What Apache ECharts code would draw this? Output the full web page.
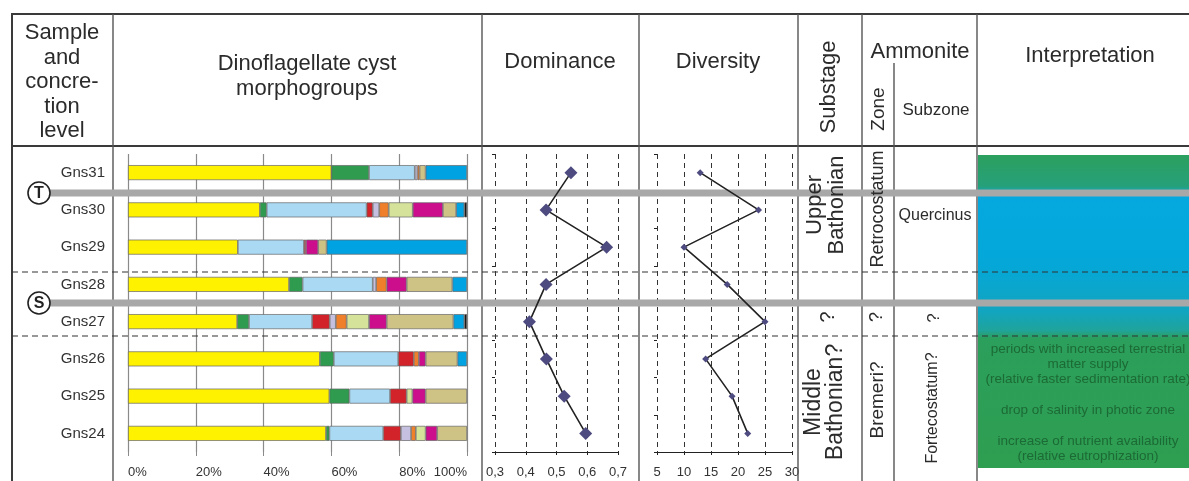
<!DOCTYPE html>
<html><head><meta charset="utf-8">
<script src="https://cdn.jsdelivr.net/npm/echarts@6/dist/echarts.min.js"></script>
<style>html,body{margin:0;padding:0;background:#fff}#c{width:1189px;height:481px}</style>
</head><body><div id="c"></div>
<script>
// ---------- data ----------
const samples = ['Gns31','Gns30','Gns29','Gns28','Gns27','Gns26','Gns25','Gns24'];
// morphogroup percentages (per sample, top to bottom)
const yellowGrp    = [60.0, 38.9, 32.4, 47.5, 32.2, 56.6, 59.4, 58.4];
const greenGrp     = [11.1,  2.0,  0.0,  4.0,  3.5,  4.1,  5.9,  1.0];
const lightBlueGrp = [13.5, 29.5, 19.5, 20.7, 18.6, 19.0, 12.0, 15.9];
const redGrp       = [ 0.0,  1.8,  0.6,  0.0,  5.2,  4.6,  4.9,  5.2];
const lavenderGrp  = [ 0.8,  1.9,  0.0,  1.0,  1.8,  0.0,  0.0,  3.0];
const orangeGrp    = [ 0.6,  2.8,  0.0,  3.1,  3.2,  1.5,  0.0,  1.4];
const paleGreenGrp = [ 0.0,  7.1,  0.0,  0.0,  6.6,  0.0,  1.7,  2.9];
const magentaGrp   = [ 0.0,  8.9,  3.6,  5.9,  5.2,  2.0,  3.9,  3.4];
const khakiGrp     = [ 1.8,  3.9,  2.5, 13.5, 19.7,  9.4, 12.2,  8.8];
const blueGrp      = [12.2,  2.4, 41.4,  4.3,  3.2,  2.8,  0.0,  0.0];
const blackGrp     = [ 0.0,  0.8,  0.0,  0.0,  0.8,  0.0,  0.0,  0.0];
const dominance = [0.547, 0.466, 0.663, 0.466, 0.412, 0.467, 0.525, 0.595];
const diversity = [13.0, 23.8, 10.0, 18.0, 25.0, 14.0, 18.9, 21.8];
const interpretationLines = ['periods with increased terrestrial','matter supply','(relative faster sedimentation rate)','drop of salinity in photic zone','increase of nutrient availability','(relative eutrophization)'];

// ---------- styles ----------
const groups = [yellowGrp, greenGrp, lightBlueGrp, redGrp, lavenderGrp, orangeGrp, paleGreenGrp, magentaGrp, khakiGrp, blueGrp, blackGrp];
const groupColors = ['#fff200','#2e9b4e','#a9d9f3','#d2232a','#c5c0e0','#ef7f2a','#d5e39a','#cc0e8d','#cfc285','#00a2e2','#111111'];
const FONT = '"Liberation Sans", Arial, sans-serif';
const TXT = '#2b2b2b';

const chart = echarts.init(document.getElementById('c'), null, {renderer:'canvas'});

const barSeries = groups.map((vals, k) => ({
  type:'bar', xAxisIndex:0, yAxisIndex:0, stack:'morph', barWidth:15, silent:true,
  data: vals.map(v => v > 0 ? v : null),
  itemStyle:{color:groupColors[k], borderColor:'#666', borderWidth:0.7}
}));

function L(x1,y1,x2,y2,stroke,w,dash,z){
  return {type:'line', z:z||1, silent:true, shape:{x1,y1,x2,y2}, style:{stroke, lineWidth:w, lineDash:dash||null}};
}
function T(text,x,y,size,opts){
  opts = opts||{};
  return {type:'text', z:3, silent:true, x, y, rotation: opts.rot ? Math.PI/2 : 0,
    style:{text, x:0, y:0, fill: opts.fill||TXT, font: (opts.bold?'bold ':'') + size+'px '+FONT,
      align:'center', verticalAlign:'middle', lineHeight: opts.lh||size*1.12}};
}

const graphics = [];
// interpretation fill
graphics.push({type:'rect', z:0, silent:true, shape:{x:978, y:155, width:211, height:313},
  style:{fill:new echarts.graphic.LinearGradient(0,0,0,1,[
    {offset:0, color:'#2ca05e'},{offset:0.10, color:'#26a07a'},{offset:0.13, color:'#05a9df'},
    {offset:0.35, color:'#04a7d8'},{offset:0.50, color:'#12a5c0'},{offset:0.56, color:'#1fa49c'},
    {offset:0.585, color:'#2b9f5c'},{offset:1, color:'#2e9e50'}])}});
// table frame
graphics.push(L(12,14,1189,14,'#3a3a3a',2));
graphics.push(L(12,146,1189,146,'#3a3a3a',2));
graphics.push(L(12,13,12,481,'#3a3a3a',2));
[113,482,639,798,862,977].forEach(x => graphics.push(L(x,14,x,481,'#555',1.4)));
graphics.push(L(894,63,894,481,'#555',1.4));
// gray concretion levels and dashed boundaries
graphics.push(L(50,193,1189,193,'#a8a8a8',7));
graphics.push(L(50,303,1189,303,'#a8a8a8',7));
graphics.push(L(12,272,1189,272,'#333',1.2,[6,4],2));
graphics.push(L(12,336,1189,336,'#333',1.2,[6,4],2));
// circles
[['T',193],['S',303]].forEach(([t,y]) => {
  graphics.push({type:'circle', z:4, silent:true, shape:{cx:39, cy:y, r:11}, style:{fill:'#fff', stroke:'#222', lineWidth:1.6}});
  graphics.push(Object.assign(T(t,39,y+1,16,{bold:true, fill:'#222'}), {z:5}));
});
// header texts
graphics.push(T('Sample\nand\nconcre-\ntion\nlevel',62,82,22,{lh:24.5}));
graphics.push(T('Dinoflagellate cyst\nmorphogroups',307,76,22,{lh:25}));
graphics.push(T('Dominance',560,62,22));
graphics.push(T('Diversity',718,62,22));
graphics.push(T('Substage',829,87,22,{rot:true}));
graphics.push(T('Ammonite',920,52,22));
graphics.push(T('Zone',879,109,19,{rot:true}));
graphics.push(T('Subzone',936,110,17));
graphics.push(T('Interpretation',1090,56,22));
// body texts
graphics.push(T('Upper\nBathonian',826,205,22,{rot:true,lh:22}));
graphics.push(T('?',828,317,20,{rot:true}));
graphics.push(T('Middle\nBathonian?',825,402,23,{rot:true,lh:22}));
graphics.push(T('Retrocostatum',878,209,18,{rot:true}));
graphics.push(T('?',877,317,18,{rot:true}));
graphics.push(T('Bremeri?',878,400,19,{rot:true}));
graphics.push(T('Quercinus',935,216,16));
graphics.push(T('?',934,318,17,{rot:true}));
graphics.push(T('Fortecostatum?',933,408,16,{rot:true}));
const interpY = [349,364,379,410,441,456];
interpretationLines.forEach((s,i) => graphics.push(T(s,1088,interpY[i],13.5,{fill:'#1c6a35'})));

const axisLbl = {fontSize:13, color:'#333', fontFamily:FONT, margin:14};
const dashSplit = {show:true, lineStyle:{color:'#333', type:[5,4], width:1}};
const catAxisSmall = i => ({gridIndex:i, type:'category', data:samples, inverse:true,
  axisLine:{show:false}, axisTick:{show:true, length:3, lineStyle:{color:'#222'}}, axisLabel:{show:false}});

chart.setOption({
  animation:false,
  textStyle:{fontFamily:FONT},
  grid:[
    {left:128, top:154, width:339, height:298},
    {left:495, top:154, width:123, height:298},
    {left:657, top:154, width:135, height:298}
  ],
  xAxis:[
    {gridIndex:0, type:'value', min:0, max:100, interval:20,
      axisLine:{show:false}, axisTick:{show:true, length:4, lineStyle:{color:'#8a8a8a'}},
      splitLine:{show:true, lineStyle:{color:'#8a8a8a', width:1.2}},
      axisLabel:Object.assign({formatter:'{value}%', align:'left', alignMaxLabel:'right'}, axisLbl)},
    {gridIndex:1, type:'value', min:0.3, max:0.7, interval:0.1,
      axisLine:{show:true, lineStyle:{color:'#222', width:1.2}}, axisTick:{show:true, length:3, lineStyle:{color:'#222'}},
      splitLine:dashSplit,
      axisLabel:Object.assign({formatter:v => v.toFixed(1).replace('.',',')}, axisLbl)},
    {gridIndex:2, type:'value', min:5, max:30, interval:5,
      axisLine:{show:true, lineStyle:{color:'#222', width:1.2}}, axisTick:{show:true, length:3, lineStyle:{color:'#222'}},
      splitLine:dashSplit, axisLabel:axisLbl}
  ],
  yAxis:[
    {gridIndex:0, type:'category', data:samples, inverse:true,
      axisLine:{show:false}, axisTick:{show:false},
      axisLabel:{margin:23, fontSize:15, color:'#333', fontFamily:FONT}},
    catAxisSmall(1), catAxisSmall(2)
  ],
  series: barSeries.concat([
    {type:'line', xAxisIndex:1, yAxisIndex:1, silent:true,
      data: dominance.map((v,i) => [v, samples[i]]),
      symbol:'diamond', symbolSize:13, itemStyle:{color:'#4d4b80'},
      lineStyle:{color:'#222', width:1.6}},
    {type:'line', xAxisIndex:2, yAxisIndex:2, silent:true,
      data: diversity.map((v,i) => [v, samples[i]]),
      symbol:'diamond', symbolSize:7, itemStyle:{color:'#4d4b80'},
      lineStyle:{color:'#222', width:1.6}}
  ]),
  graphic:{elements:graphics}
});
</script></body></html>
